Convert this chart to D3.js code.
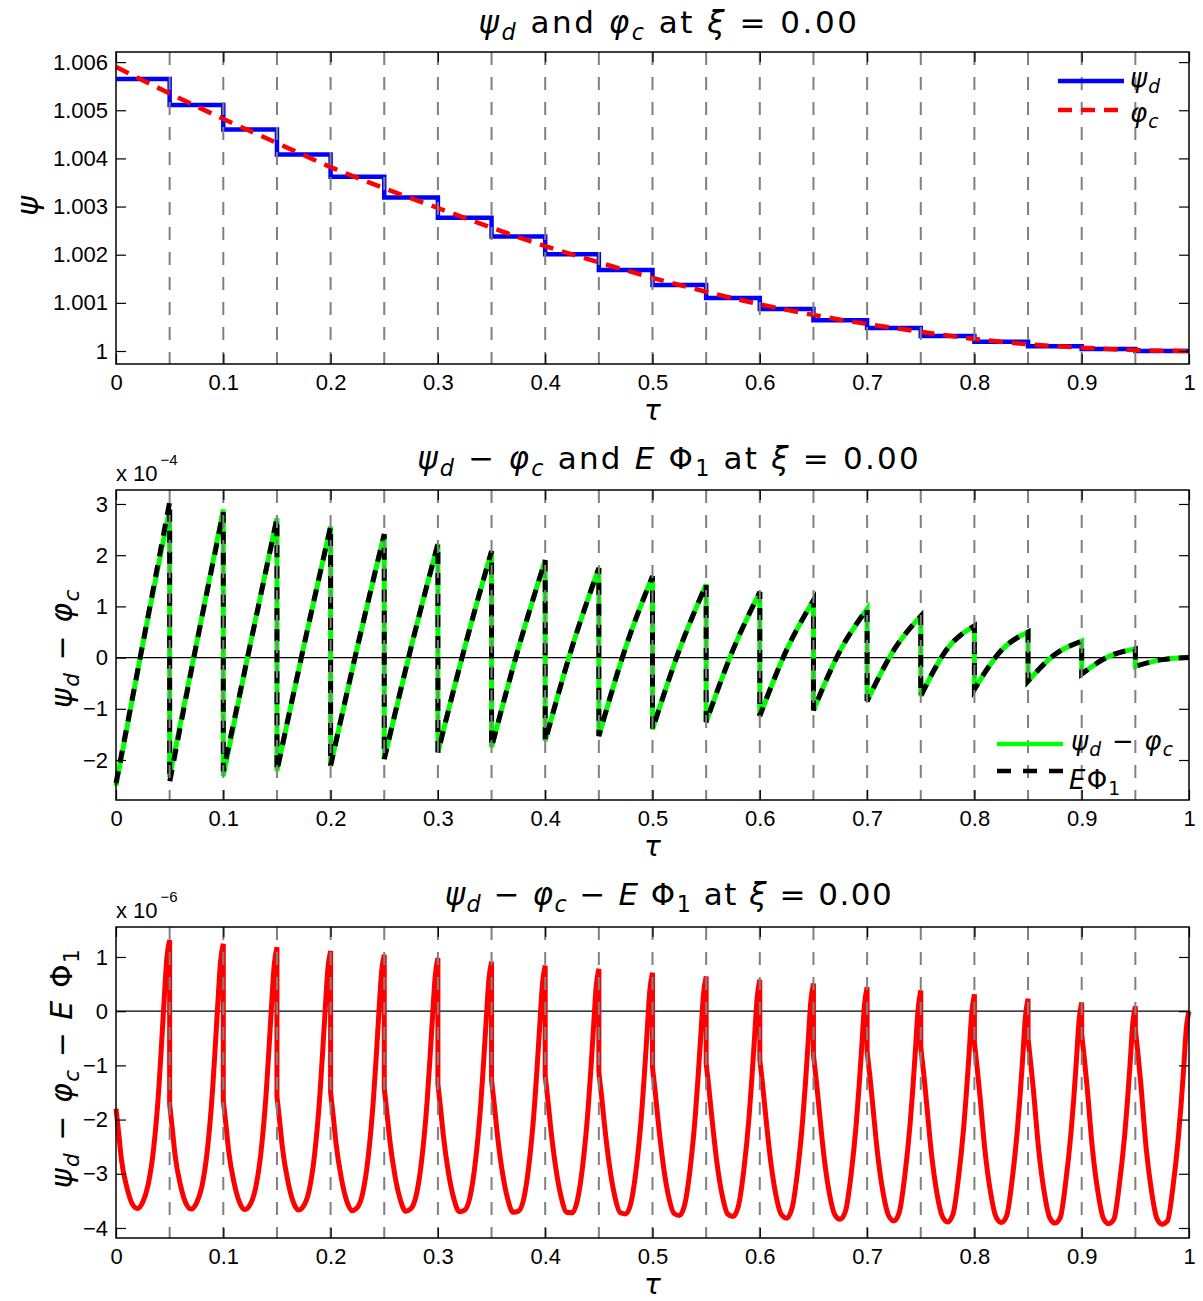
<!DOCTYPE html>
<html>
<head>
<meta charset="utf-8">
<script src="https://cdn.jsdelivr.net/npm/d3@7"></script>
<style>
body { margin: 0; background: #fff; }
svg { display: block; background: #fff; }
.tick text { font-family: "Liberation Sans", Arial, sans-serif; font-size: 22px; fill: #000; }
.tick line { stroke: #000; stroke-width: 1.2; }
</style>
</head>
<body>
<svg id="chart" width="1203" height="1301"></svg>
<script>
const svg = d3.select('#chart');
const plotLeft = 116;
const plotRight = 1189;
const titleX = 669;
const textFont = '"DejaVu Sans", "Open Sans", sans-serif';
const gridColor = '#808080';

// ---- data ----
const xTicks = [0, 0.1, 0.2, 0.3, 0.4, 0.5, 0.6, 0.7, 0.8, 0.9, 1];
const gridTau = [0.05, 0.1, 0.15, 0.2, 0.25, 0.3, 0.35, 0.4, 0.45, 0.5, 0.55, 0.6, 0.65, 0.7, 0.75, 0.8, 0.85, 0.9, 0.95];
const stepTau = [0, 0.05, 0.1, 0.15, 0.2, 0.25, 0.3, 0.35, 0.4, 0.45, 0.5, 0.55, 0.6, 0.65, 0.7, 0.75, 0.8, 0.85, 0.9, 0.95];
const stepWidth = 0.05;

// top panel: psi_d (piecewise constant) and phi_c
const psiD = [1.00565, 1.00511, 1.00460, 1.00408, 1.00362, 1.00319, 1.00277, 1.00238, 1.00201, 1.00168,
              1.00137, 1.00110, 1.00087, 1.00064, 1.00048, 1.00031, 1.00019, 1.00010, 1.00004, 1.00000];
const phiTau = [0, 0.05, 0.1, 0.15, 0.2, 0.25, 0.3, 0.35, 0.4, 0.45, 0.5, 0.55, 0.6, 0.65, 0.7, 0.75, 0.8, 0.85, 0.9, 0.95, 1];
const phiC = [1.00590, 1.00535, 1.00482, 1.00432, 1.00382, 1.00338, 1.00297, 1.00256, 1.00218, 1.00184, 1.00152,
              1.00123, 1.00097, 1.00075, 1.00056, 1.00040, 1.00025, 1.00014, 1.00007, 1.00002, 1.00000];
const psiTicks = [1, 1.001, 1.002, 1.003, 1.004, 1.005, 1.006];

// middle panel (x 1e-4): value at start, middle and end of each interval
const diffStart = [-2.50, -2.33, -2.31, -2.21, -2.11, -1.98, -1.85, -1.75, -1.63, -1.53,
                   -1.40, -1.26, -1.14, -1.03, -0.85, -0.75, -0.62, -0.46, -0.32, -0.17];
const diffMid   = [0.27, 0.27, 0.25, 0.22, 0.21, 0.20, 0.20, 0.18, 0.20, 0.20,
                   0.15, 0.15, 0.15, 0.14, 0.15, 0.18, 0.14, 0.06, 0.02, -0.04];
const diffEnd   = [2.90, 2.89, 2.72, 2.56, 2.41, 2.22, 2.08, 1.90, 1.75, 1.59,
                   1.43, 1.28, 1.12, 0.95, 0.81, 0.62, 0.50, 0.32, 0.17, 0.00];
const ephiStart = [-2.45, -2.43, -2.22, -2.21, -2.11, -1.98, -1.85, -1.75, -1.63, -1.53,
                   -1.40, -1.26, -1.14, -1.03, -0.85, -0.75, -0.62, -0.46, -0.32, -0.17];
const ephiMid   = [0.27, 0.26, 0.24, 0.22, 0.21, 0.20, 0.20, 0.18, 0.20, 0.20,
                   0.15, 0.15, 0.15, 0.14, 0.15, 0.18, 0.14, 0.06, 0.02, -0.04];
const ephiEnd   = [3.04, 2.84, 2.72, 2.56, 2.41, 2.22, 2.08, 1.90, 1.75, 1.59,
                   1.43, 1.28, 1.12, 0.95, 0.81, 0.62, 0.50, 0.32, 0.17, 0.00];
const diffTicks = [-2, -1, 0, 1, 2, 3];

// bottom panel (x 1e-6): value at fractions of each interval
const errFrac = [0, 0.05, 0.1, 0.2, 0.3, 0.4, 0.5, 0.6, 0.7, 0.8, 0.85, 0.9, 0.95, 1];
const errRows = [
  [-1.80, -2.25, -2.73, -3.24, -3.55, -3.64, -3.52, -3.20, -2.55, -1.40, -0.60, 0.25, 1.00, 1.31],
  [-1.72, -2.17, -2.65, -3.20, -3.54, -3.65, -3.54, -3.24, -2.59, -1.45, -0.66, 0.18, 0.93, 1.24],
  [-1.65, -2.10, -2.58, -3.16, -3.52, -3.66, -3.57, -3.27, -2.62, -1.50, -0.72, 0.11, 0.86, 1.18],
  [-1.57, -2.02, -2.50, -3.12, -3.51, -3.67, -3.59, -3.31, -2.66, -1.55, -0.78, 0.04, 0.79, 1.11],
  [-1.50, -1.94, -2.43, -3.08, -3.50, -3.68, -3.62, -3.35, -2.70, -1.60, -0.85, -0.03, 0.72, 1.04],
  [-1.42, -1.87, -2.35, -3.04, -3.48, -3.69, -3.64, -3.38, -2.73, -1.65, -0.91, -0.10, 0.65, 0.98],
  [-1.34, -1.79, -2.28, -3.00, -3.47, -3.70, -3.67, -3.42, -2.77, -1.70, -0.97, -0.17, 0.58, 0.91],
  [-1.27, -1.71, -2.20, -2.96, -3.46, -3.71, -3.69, -3.46, -2.81, -1.75, -1.03, -0.24, 0.51, 0.84],
  [-1.19, -1.64, -2.13, -2.91, -3.44, -3.71, -3.72, -3.49, -2.84, -1.80, -1.09, -0.31, 0.45, 0.78],
  [-1.12, -1.56, -2.05, -2.87, -3.43, -3.72, -3.74, -3.53, -2.88, -1.85, -1.15, -0.38, 0.38, 0.71],
  [-1.04, -1.48, -1.98, -2.83, -3.42, -3.73, -3.77, -3.57, -2.92, -1.90, -1.21, -0.45, 0.31, 0.64],
  [-0.96, -1.41, -1.90, -2.79, -3.40, -3.74, -3.79, -3.60, -2.95, -1.95, -1.27, -0.52, 0.24, 0.58],
  [-0.89, -1.33, -1.83, -2.75, -3.39, -3.75, -3.82, -3.64, -2.99, -2.00, -1.34, -0.59, 0.17, 0.51],
  [-0.81, -1.25, -1.75, -2.71, -3.38, -3.76, -3.84, -3.68, -3.03, -2.05, -1.40, -0.66, 0.10, 0.44],
  [-0.74, -1.18, -1.68, -2.67, -3.36, -3.77, -3.87, -3.71, -3.06, -2.10, -1.46, -0.73, 0.03, 0.38],
  [-0.66, -1.10, -1.60, -2.63, -3.35, -3.78, -3.89, -3.75, -3.10, -2.15, -1.52, -0.80, -0.04, 0.31],
  [-0.58, -1.03, -1.53, -2.60, -3.34, -3.79, -3.90, -3.78, -3.14, -2.20, -1.58, -0.87, -0.11, 0.23],
  [-0.50, -0.96, -1.46, -2.57, -3.33, -3.80, -3.91, -3.81, -3.17, -2.25, -1.64, -0.93, -0.18, 0.16],
  [-0.42, -0.88, -1.39, -2.54, -3.32, -3.81, -3.92, -3.84, -3.21, -2.30, -1.70, -1.00, -0.25, 0.09],
  [-0.34, -0.80, -1.32, -2.51, -3.31, -3.82, -3.93, -3.87, -3.25, -2.35, -1.76, -1.07, -0.32, 0.00]
];
const errTicks = [-4, -3, -2, -1, 0, 1];

// ---- helpers ----
function fmtTau(d) {
    if (d === 0) return '0';
    if (d === 1) return '1';
    return d.toFixed(1);
}

// parts: {t, i (italic), sub}
function richText(sel, parts, size) {
    let shifted = 0;
    parts.forEach(function(p) {
        const ts = sel.append('tspan').text(p.t);
        if (p.i) ts.attr('font-style', 'italic');
        const want = p.sub ? size * 0.22 : 0;
        if (want !== shifted) {
            ts.attr('dy', want - shifted);
            shifted = want;
        }
        if (p.sub) ts.attr('font-size', size * 0.72);
    });
}

function makePanel(top, bottom, yDomain) {
    const x = d3.scaleLinear().domain([0, 1]).range([plotLeft, plotRight]);
    const y = d3.scaleLinear().domain(yDomain).range([bottom, top]);
    const g = svg.append('g');
    const marks = g.append('g');
    const grid = g.append('g');
    const axes = g.append('g');
    return { x: x, y: y, top: top, bottom: bottom, marks: marks, grid: grid, axes: axes };
}

function drawFrame(p, yTicks, yFmt) {
    p.grid.selectAll('line.grid')
        .data(gridTau)
        .enter().append('line')
        .attr('class', 'grid')
        .attr('x1', d => p.x(d)).attr('x2', d => p.x(d))
        .attr('y1', p.top).attr('y2', p.bottom)
        .attr('stroke', gridColor)
        .attr('stroke-width', 2)
        .attr('stroke-dasharray', '13,12');

    p.axes.append('g')
        .attr('transform', `translate(0,${p.bottom})`)
        .call(d3.axisBottom(p.x).tickValues(xTicks).tickSize(-10).tickSizeOuter(0).tickPadding(10).tickFormat(fmtTau));
    p.axes.append('g')
        .attr('transform', `translate(0,${p.top})`)
        .call(d3.axisTop(p.x).tickValues(xTicks).tickSize(-10).tickSizeOuter(0).tickFormat(''));
    p.axes.append('g')
        .attr('transform', `translate(${plotLeft},0)`)
        .call(d3.axisLeft(p.y).tickValues(yTicks).tickSize(-10).tickSizeOuter(0).tickPadding(8).tickFormat(yFmt));
    p.axes.append('g')
        .attr('transform', `translate(${plotRight},0)`)
        .call(d3.axisRight(p.y).tickValues(yTicks).tickSize(-10).tickSizeOuter(0).tickFormat(''));
    p.axes.selectAll('.domain').remove();
    p.axes.append('rect')
        .attr('x', plotLeft).attr('y', p.top)
        .attr('width', plotRight - plotLeft).attr('height', p.bottom - p.top)
        .attr('fill', 'none').attr('stroke', '#000').attr('stroke-width', 1.5);

    svg.append('text')
        .attr('x', (plotLeft + plotRight) / 2)
        .attr('y', p.bottom + 56)
        .attr('text-anchor', 'middle')
        .attr('font-family', textFont)
        .attr('font-size', 28)
        .attr('font-style', 'italic')
        .text('τ');
}

function drawZero(p) {
    p.marks.append('line')
        .attr('x1', plotLeft).attr('x2', plotRight)
        .attr('y1', p.y(0)).attr('y2', p.y(0))
        .attr('stroke', '#000').attr('stroke-width', 1.2);
}

function addTitle(y, parts, spacing) {
    const t = svg.append('text')
        .attr('x', titleX)
        .attr('y', y)
        .attr('text-anchor', 'middle')
        .attr('font-family', textFont)
        .attr('font-size', 31)
        .attr('letter-spacing', spacing);
    richText(t, parts, 31);
}

function addYLabel(x, y, parts) {
    const t = svg.append('text')
        .attr('transform', `translate(${x},${y}) rotate(-90)`)
        .attr('text-anchor', 'middle')
        .attr('font-family', textFont)
        .attr('font-size', 30)
        .attr('letter-spacing', 1.5);
    richText(t, parts, 30);
}

function addMultiplier(y, exp) {
    const t = svg.append('text')
        .attr('x', plotLeft)
        .attr('y', y)
        .attr('font-family', '"Liberation Sans", Arial, sans-serif')
        .attr('font-size', 22)
        .text('x 10');
    t.append('tspan').attr('dy', -16).attr('dx', 3).attr('font-size', 15).text(exp);
}

function legendRow(x, y, color, dash, parts, textDx, textDy) {
    svg.append('line')
        .attr('x1', x).attr('x2', x + 66)
        .attr('y1', y).attr('y2', y)
        .attr('stroke', color).attr('stroke-width', 4.5)
        .attr('stroke-dasharray', dash);
    const t = svg.append('text')
        .attr('x', x + textDx).attr('y', y + textDy)
        .attr('font-family', textFont)
        .attr('font-size', 26)
        .attr('letter-spacing', 1.2);
    richText(t, parts, 26);
}

// joins one smooth piece per interval; the jump at each boundary becomes a vertical lineto
function piecewisePath(p, pieces) {
    const line = d3.line().x(d => p.x(d[0])).y(d => p.y(d[1])).curve(d3.curveMonotoneX);
    return pieces.map(function(pts, i) {
        const s = line(pts);
        return i === 0 ? s : 'L' + s.slice(1);
    }).join('');
}

function threePointPieces(starts, mids, ends) {
    return stepTau.map((a, i) => [[a, starts[i]], [a + stepWidth / 2, mids[i]], [a + stepWidth, ends[i]]]);
}

const psiD_ = { t: 'ψ', i: true };
const subD = { t: 'd', i: true, sub: true };
const phiC_ = { t: 'φ', i: true };
const subC = { t: 'c', i: true, sub: true };
const minus = { t: ' − ' };

// ---- panel 1 ----
const p1 = makePanel(52, 364, [0.99973, 1.00621]);
const stepPts = stepTau.map((t, i) => [t, psiD[i]]).concat([[1, psiD[psiD.length - 1]]]);
p1.marks.append('path')
    .attr('d', d3.line().x(d => p1.x(d[0])).y(d => p1.y(d[1])).curve(d3.curveStepAfter)(stepPts))
    .attr('fill', 'none').attr('stroke', '#0000ff').attr('stroke-width', 4.5);
p1.marks.append('path')
    .attr('d', d3.line().x(d => p1.x(d[0])).y(d => p1.y(d[1])).curve(d3.curveMonotoneX)(phiTau.map((t, i) => [t, phiC[i]])))
    .attr('fill', 'none').attr('stroke', '#ff0000').attr('stroke-width', 4.5)
    .attr('stroke-dasharray', '14,9');
drawFrame(p1, psiTicks, d => d === 1 ? '1' : d.toFixed(3));
addTitle(33, [psiD_, subD, { t: ' and ' }, phiC_, subC, { t: ' at ' }, { t: 'ξ', i: true }, { t: ' = 0.00' }], 2.5);
addYLabel(38, 205, [psiD_]);
legendRow(1058, 81, '#0000ff', null, [psiD_, subD], 72, 6);
legendRow(1058, 110, '#ff0000', '14,9', [phiC_, subC], 72, 12);

// ---- panel 2 ----
const p2 = makePanel(490, 800, [-2.781, 3.273]);
drawZero(p2);
p2.marks.append('path')
    .attr('d', piecewisePath(p2, threePointPieces(diffStart, diffMid, diffEnd)))
    .attr('fill', 'none').attr('stroke', '#00ff00').attr('stroke-width', 5);
p2.marks.append('path')
    .attr('d', piecewisePath(p2, threePointPieces(ephiStart, ephiMid, ephiEnd)))
    .attr('fill', 'none').attr('stroke', '#000').attr('stroke-width', 5)
    .attr('stroke-dasharray', '12,9');
drawFrame(p2, diffTicks, d3.format('d'));
addTitle(469, [psiD_, subD, minus, phiC_, subC, { t: ' and ' }, { t: 'E', i: true }, { t: ' Φ' }, { t: '1', sub: true }, { t: ' at ' }, { t: 'ξ', i: true }, { t: ' = 0.00' }], 2.2);
addYLabel(72, 648, [psiD_, subD, minus, phiC_, subC]);
addMultiplier(481, '−4');
legendRow(997, 744, '#00ff00', null, [psiD_, subD, minus, phiC_, subC], 74, 6);
legendRow(997, 771, '#000', '14,12', [{ t: 'E', i: true }, { t: 'Φ' }, { t: '1', sub: true }], 72, 18);

// ---- panel 3 ----
const p3 = makePanel(927, 1238, [-4.185, 1.553]);
drawZero(p3);
const errPieces = stepTau.map((a, i) => errFrac.map((f, j) => [a + f * stepWidth, errRows[i][j]]));
p3.marks.append('path')
    .attr('d', piecewisePath(p3, errPieces))
    .attr('fill', 'none').attr('stroke', '#ff0000').attr('stroke-width', 5);
drawFrame(p3, errTicks, d3.format('d'));
addTitle(905, [psiD_, subD, minus, phiC_, subC, minus, { t: 'E', i: true }, { t: ' Φ' }, { t: '1', sub: true }, { t: ' at ' }, { t: 'ξ', i: true }, { t: ' = 0.00' }], 1.5);
addYLabel(72, 1068, [psiD_, subD, minus, phiC_, subC, minus, { t: 'E', i: true }, { t: ' Φ' }, { t: '1', sub: true }]);
addMultiplier(918, '−6');
</script>
</body>
</html>
